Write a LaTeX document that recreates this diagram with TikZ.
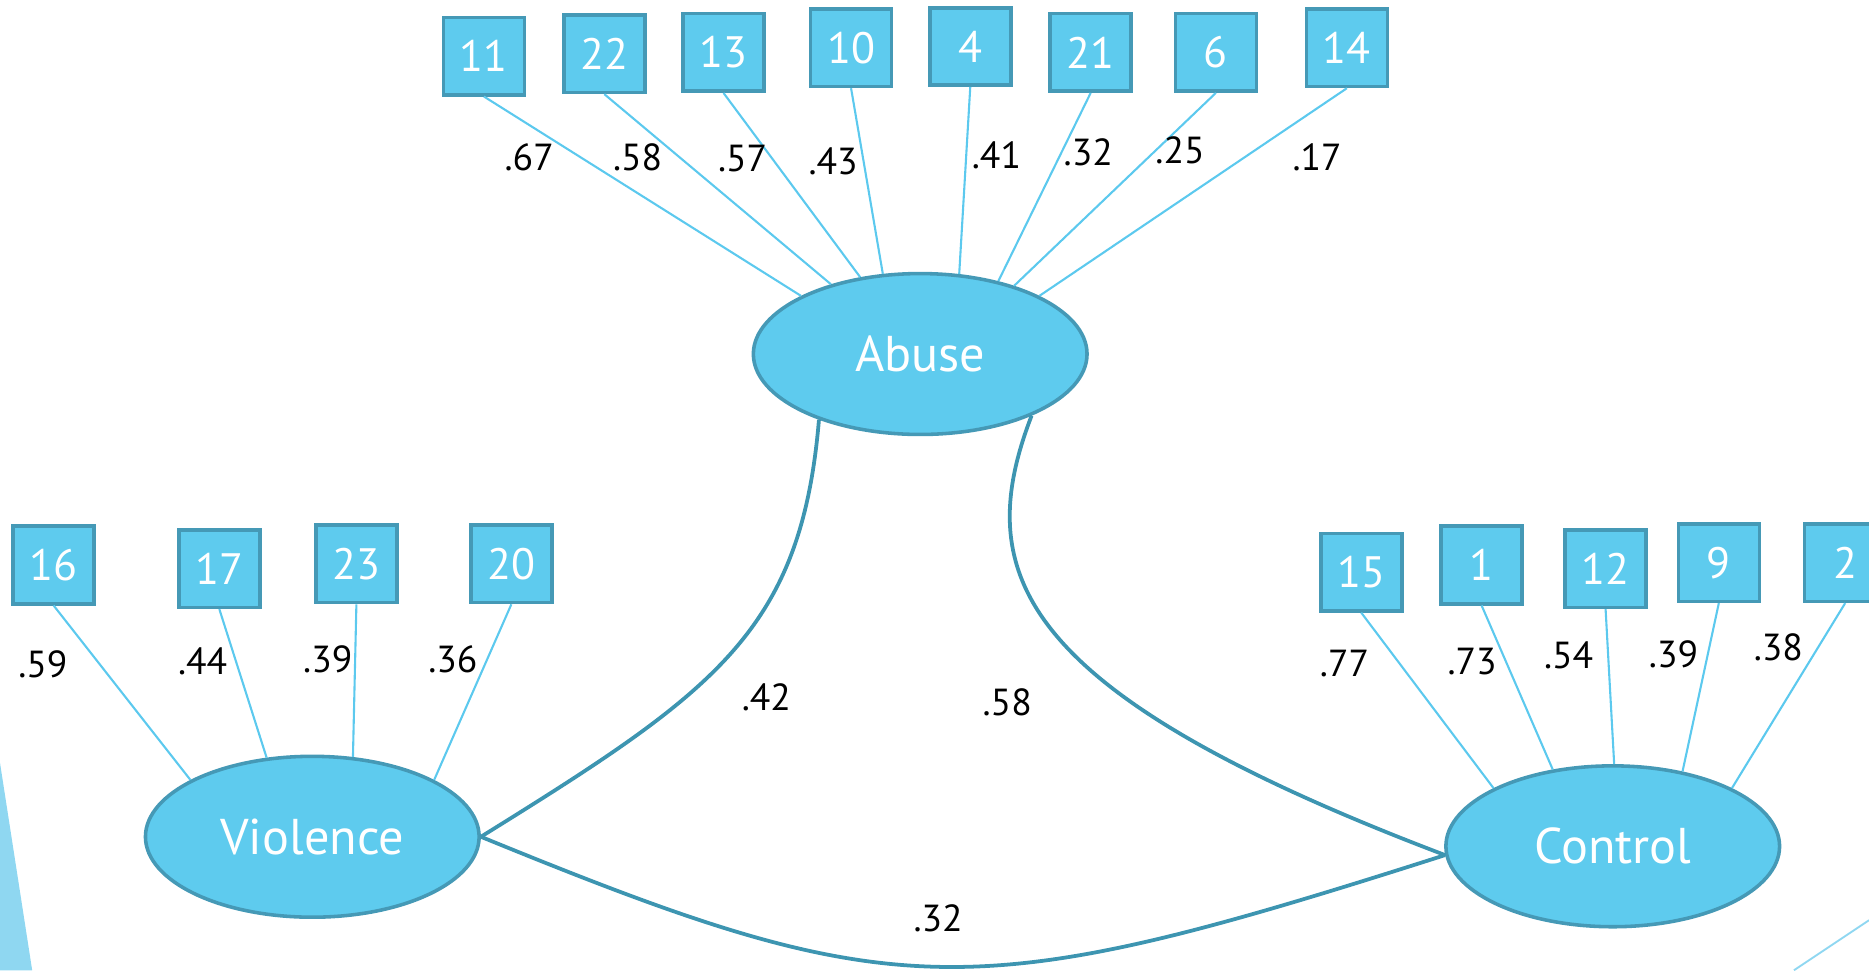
\documentclass[tikz,border=0pt]{standalone}
\usepackage{fontspec}
\setmainfont{PT Sans}
\usetikzlibrary{shapes.geometric}

\definecolor{itemfill}{HTML}{5ECBEE}
\definecolor{itemdraw}{HTML}{4599B6}
\definecolor{loadline}{HTML}{5CC9EE}
\definecolor{pathline}{HTML}{3D95B1}
\definecolor{deco}{HTML}{8FD7F1}

\begin{document}
\begin{tikzpicture}[x=0.02cm, y=-0.02cm,
        item/.style={draw=itemdraw, fill=itemfill, line width=1.7pt, minimum width=1.36cm, minimum height=1.3cm, inner sep=0pt, text=white, font=\fontsize{21}{21}\selectfont},
        factor/.style={ellipse, draw=itemdraw, fill=itemfill, line width=1.7pt, minimum width=5.6cm, minimum height=2.7cm, inner sep=0pt, text=white, font=\fontsize{24}{24}\selectfont},
        load/.style={draw=loadline, line width=1pt},
        corr/.style={draw=pathline, line width=1.8pt},
        coef/.style={font=\fontsize{18}{18}\selectfont}]
        \useasboundingbox (0,0) rectangle (1568,814);
        \clip (0,0) rectangle (1568,814);

        % background bits
        \fill[deco] (0,640) -- (27,814) -- (0,814) -- cycle;
        \draw[deco, line width=0.9pt] (1505,814) -- (1568,772);

        % factors
        \node[factor] (abuse) at (772,297) {Abuse};
        \node[factor] (violence) at (262,702) {Violence};
        \node[factor] (control) at (1353,710) {Control};

        % items of abuse
        \node[item] (i11) at (406,47) {11};
        \node[item] (i22) at (507,45) {22};
        \node[item] (i13) at (607,44) {13};
        \node[item] (i10) at (714,40) {10};
        \node[item] (i4) at (814,39) {4};
        \node[item] (i21) at (915,44) {21};
        \node[item] (i6) at (1020,44) {6};
        \node[item] (i14) at (1130,40) {14};

        % items of violence
        \node[item] (i16) at (45,474) {16};
        \node[item] (i17) at (184,477) {17};
        \node[item] (i23) at (299,473) {23};
        \node[item] (i20) at (429,473) {20};

        % items of control
        \node[item] (i15) at (1142,480) {15};
        \node[item] (i1) at (1243,474) {1};
        \node[item] (i12) at (1347,477) {12};
        \node[item] (i9) at (1442,472) {9};
        \node[item] (i2) at (1548,472) {2};

        \draw[load] (i11.south) -- (abuse.154);
        \draw[load] (i22.south) -- (abuse.142);
        \draw[load] (i13.south) -- (abuse.128);
        \draw[load] (i10.south) -- (abuse.115);
        \draw[load] (i4.south) -- (abuse.64);
        \draw[load] (i21.south) -- (abuse.43);
        \draw[load] (i6.south) -- (abuse.36);
        \draw[load] (i14.south) -- (abuse.26);

        \draw[load] (i16.south) -- (violence.155);
        \draw[load] (i17.south) -- (violence.120);
        \draw[load] (i23.south) -- (violence.63);
        \draw[load] (i20.south) -- (violence.25);

        \draw[load] (i15.south) -- (control.154);
        \draw[load] (i1.south) -- (control.128);
        \draw[load] (i12.south) -- (control.89);
        \draw[load] (i9.south) -- (control.47);
        \draw[load] (i2.south) -- (control.26);

        % correlations
        \draw[corr] (abuse.213) .. controls (672,530) and (600,580) .. (violence.east);
        \draw[corr] (abuse.331) .. controls (815,480) and (850,580) .. (control.183);
        \draw[corr] (violence.east) .. controls (753,845) and (813,845) .. (control.183);

        % coefficients
        \node[coef] (c11) at (444,132) {.67};
        \node[coef] (c22) at (535,132) {.58};
        \node[coef] (c13) at (623,133) {.57};
        \node[coef] (c10) at (699,135) {.43};
        \node[coef] (c4) at (836,130) {.41};
        \node[coef] (c21) at (913,128) {.32};
        \node[coef] (c6) at (990,126) {.25};
        \node[coef] (c14) at (1105,132) {.17};
        \node[coef] (c16) at (36,557) {.59};
        \node[coef] (c17) at (170,555) {.44};
        \node[coef] (c23) at (275,553) {.39};
        \node[coef] (c20) at (380,553) {.36};
        \node[coef] (c15) at (1128,557) {.77};
        \node[coef] (c1) at (1235,555) {.73};
        \node[coef] (c12) at (1316,550) {.54};
        \node[coef] (c9) at (1404,549) {.39};
        \node[coef] (c2) at (1492,543) {.38};
        \node[coef] (cav) at (643,585) {.42};
        \node[coef] (cac) at (845,589) {.58};
        \node[coef] (cvc) at (787,770) {.32};
    \end{tikzpicture}
\end{document}
